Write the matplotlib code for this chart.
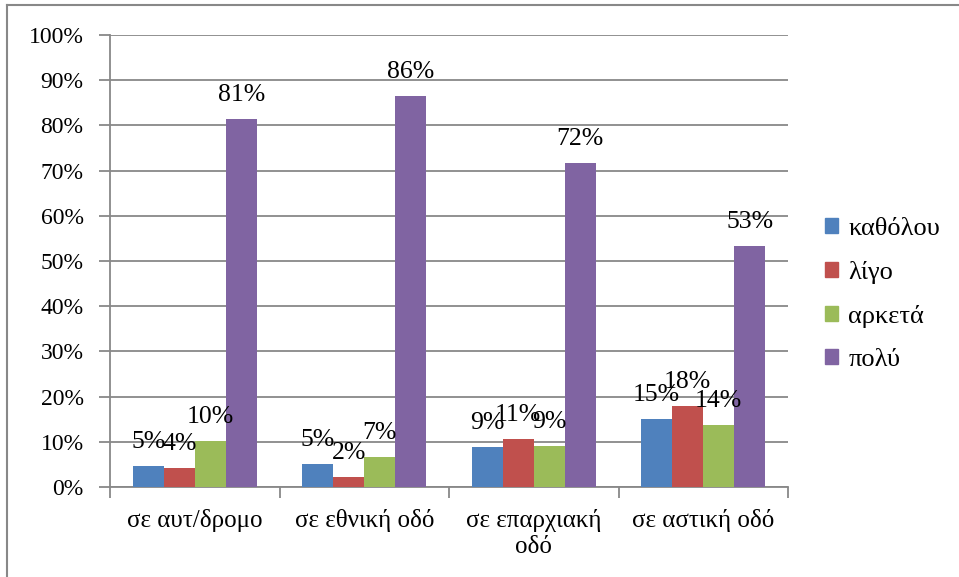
import matplotlib
matplotlib.use("Agg")
import matplotlib.pyplot as plt
import numpy as np
from matplotlib.lines import Line2D
from matplotlib.patches import Patch

plt.rcParams["font.family"] = ["Liberation Serif", "DejaVu Serif"]

categories = ["σε αυτ/δρομο", "σε εθνική οδό", "σε επαρχιακή\nοδό", "σε αστική οδό"]
series_names = ["καθόλου", "λίγο", "αρκετά", "πολύ"]
katholou = [4.6, 5.0, 8.8, 15.0]
ligo = [4.2, 2.2, 10.6, 17.9]
arketa = [10.2, 6.6, 9.1, 13.7]
poly = [81.4, 86.4, 71.6, 53.4]
labels = [
    ["5%", "5%", "9%", "15%"],
    ["4%", "2%", "11%", "18%"],
    ["10%", "7%", "9%", "14%"],
    ["81%", "86%", "72%", "53%"],
]
colors = ["#4F81BD", "#C0504D", "#9BBB59", "#8064A2"]
grey = "#888888"

fig = plt.figure(figsize=(9.59, 5.77), dpi=100)
ax = fig.add_axes([0.1147, 0.156, 0.707, 0.7833])

x = np.arange(len(categories))
w = 0.183
values = [katholou, ligo, arketa, poly]
for i, (vals, c) in enumerate(zip(values, colors)):
    pos = x + (i - 1.5) * w
    bars = ax.bar(pos, vals, w, color=c, zorder=3)
    for b, lab in zip(bars, labels[i]):
        ax.annotate(lab, (b.get_x() + b.get_width() / 2, b.get_height()),
                    xytext=(0, 13), textcoords="offset points",
                    ha="center", va="baseline", fontsize=18.5, zorder=4)

ax.set_xlim(-0.5, len(categories) - 0.5)
ax.set_ylim(0, 100)
ax.set_yticks(np.arange(0, 101, 10))
ax.set_yticklabels([f"{v}%" for v in range(0, 101, 10)], fontsize=17)
ax.yaxis.grid(True, color=grey, lw=1.3, zorder=0)
ax.set_axisbelow(True)

ax.set_xticks(x)
ax.set_xticklabels(categories, fontsize=18, linespacing=1.2)
ax.set_xticks(np.arange(-0.5, len(categories), 1), minor=True)
ax.tick_params(axis="x", which="major", length=0, pad=16)
ax.tick_params(axis="x", which="minor", length=8, width=1.3, color=grey)
ax.tick_params(axis="y", length=8, width=1.3, color=grey, pad=11)

for s in ["top", "right"]:
    ax.spines[s].set_visible(False)
for s in ["left", "bottom"]:
    ax.spines[s].set_color(grey)
    ax.spines[s].set_linewidth(1.3)

handles = [Patch(color=c) for c in colors]
fig.legend(handles, series_names, loc="center left", bbox_to_anchor=(0.846, 0.49),
           frameon=False, fontsize=19, handlelength=0.5, handleheight=0.5,
           handletextpad=0.4, labelspacing=0.8, borderpad=0)

# chart frame, cropped on the right and bottom
fig.lines.append(Line2D([0.0075, 0.0075], [0, 0.991], transform=fig.transFigure,
                        color=grey, lw=1.5))
fig.lines.append(Line2D([0.0075, 1.0], [0.991, 0.991], transform=fig.transFigure,
                        color=grey, lw=1.5))

fig.savefig("out.png", dpi=100)
